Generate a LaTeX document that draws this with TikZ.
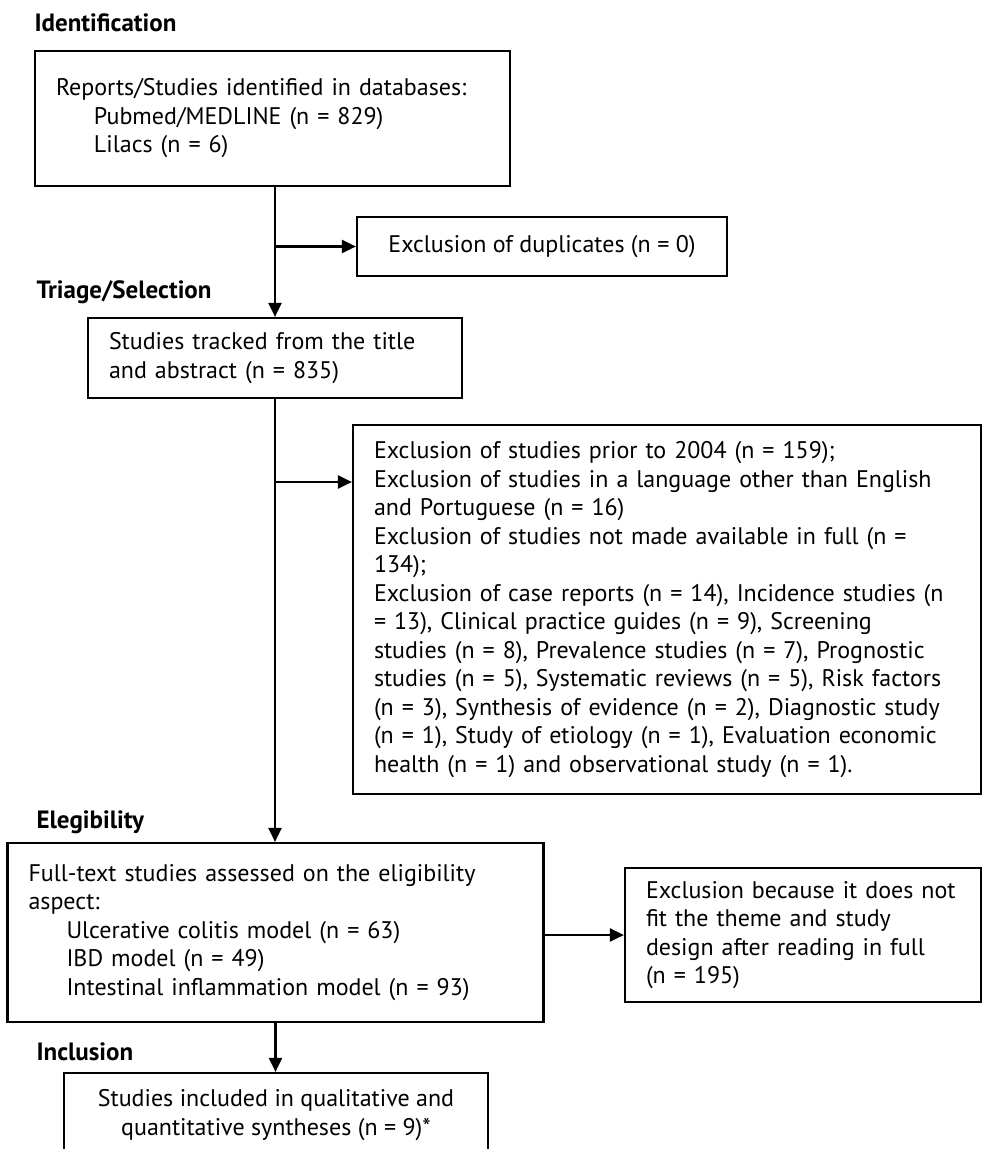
\documentclass[tikz,border=0pt]{standalone}
\usepackage{fontspec}
\setmainfont{PT Sans}
\usetikzlibrary{arrows.meta, positioning}
\hyphenpenalty=10000

\begin{document}
\begin{tikzpicture}[
        x=1pt, y=-1pt,
        box/.style={draw, line width=2.2pt, rectangle, inner xsep=0pt, inner ysep=0pt, align=left, font=\fontsize{24}{28.5}\selectfont},
        phase/.style={anchor=base west, font=\fontsize{25}{28}\selectfont\bfseries},
        arrow/.style={line width=2.2pt, -{Triangle[length=14pt, width=13pt]}}
    ]
        \useasboundingbox (0,0) rectangle (983,1149);
        \clip (0,0) rectangle (983,1149);

        % phase labels
        \node[phase] (lblident) at (31,31) {Identification};
        \node[phase] (lbltriage) at (33,298) {Triage/Selection};
        \node[phase] (lblelig) at (33,828) {Elegibility};
        \node[phase] (lblincl) at (33,1060) {Inclusion};

        % boxes
        \node[box, minimum width=475, minimum height=135, text width=433] (reports) at (272.5,118.5) {Reports/Studies identified in databases:\\ \hspace*{38pt}Pubmed/MEDLINE (n = 829)\\ \hspace*{38pt}Lilacs (n = 6)};
        \node[box, minimum width=370, minimum height=59, align=center] (duplicates) at (542,246.5) {Exclusion of duplicates (n = 0)};
        \node[box, minimum width=374, minimum height=80, text width=332] (screened) at (275,358) {Studies tracked from the title\\ and abstract (n = 835)};
        \node[box, minimum width=628, minimum height=369, text width=586] (excluded) at (667,609.5) {Exclusion of studies prior to 2004 (n = 159);\\ Exclusion of studies in a language other than English\\ and Portuguese (n = 16)\\ Exclusion of studies not made available in full (n =\\ 134);\\ Exclusion of case reports (n = 14), Incidence studies (n\\ = 13), Clinical practice guides (n = 9), Screening\\ studies (n = 8), Prevalence studies (n = 7), Prognostic\\ studies (n = 5), Systematic reviews (n = 5), Risk factors\\ (n = 3), Synthesis of evidence (n = 2), Diagnostic study\\ (n = 1), Study of etiology (n = 1), Evaluation economic\\ health (n = 1) and observational study (n = 1).};
        \node[box, minimum width=536, minimum height=179, text width=494] (eligible) at (275.5,932.5) {Full-text studies assessed on the eligibility\\ aspect:\\ \hspace*{38pt}Ulcerative colitis model (n = 63)\\ \hspace*{38pt}IBD model (n = 49)\\ \hspace*{38pt}Intestinal inflammation model (n = 93)};
        \node[box, minimum width=356, minimum height=134, text width=314] (fulltextout) at (803,935) {Exclusion because it does not\\ fit the theme and study\\ design after reading in full\\ (n = 195)};
        \node[box, minimum width=424, minimum height=84, align=center] (included) at (276,1115) {Studies included in qualitative and\\ quantitative syntheses (n = 9)*};

        % connectors
        \coordinate (dupsplit) at (screened.north |- duplicates.west);
        \coordinate (exclsplit) at (275,482);
        \draw[arrow] (reports.south -| screened.north) -- (screened.north);
        \draw[arrow] (dupsplit) -- (duplicates.west);
        \draw[arrow] (screened.south) -- (screened.south |- eligible.north);
        \draw[arrow] (exclsplit) -- (exclsplit -| excluded.west);
        \draw[arrow] (eligible.east |- fulltextout.west) -- (fulltextout.west);
        \draw[arrow] (eligible.south) -- (eligible.south |- included.north);
    \end{tikzpicture}
\end{document}
